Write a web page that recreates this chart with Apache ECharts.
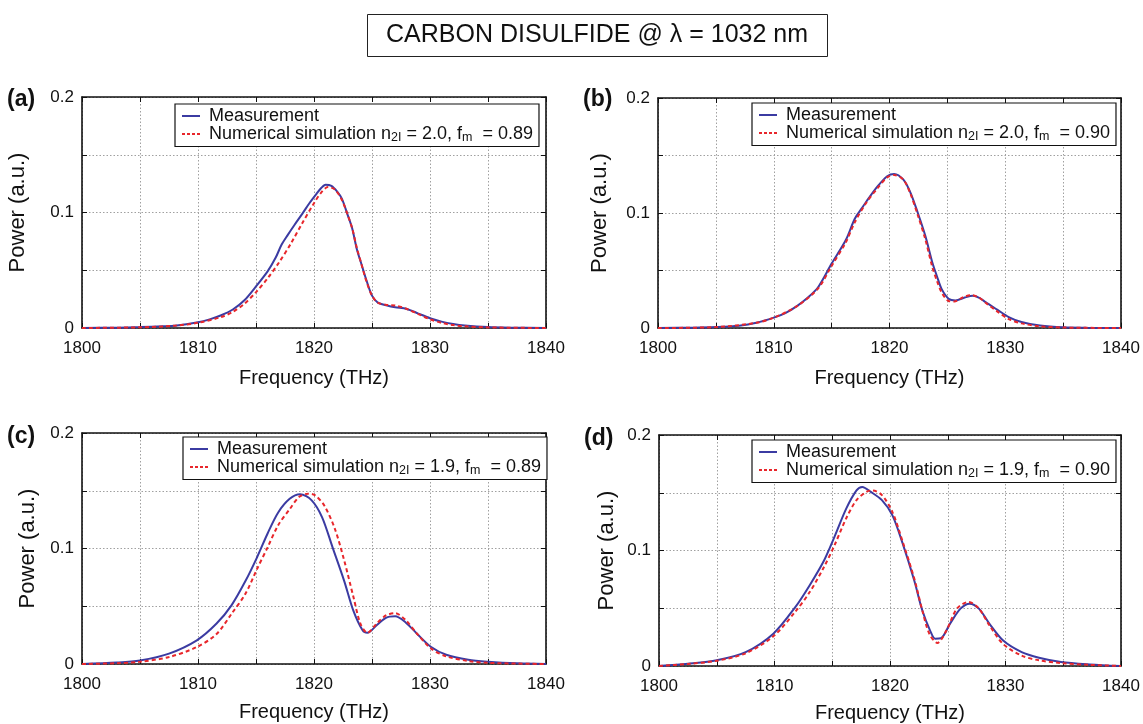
<!DOCTYPE html>
<html>
<head>
<meta charset="utf-8">
<script src="https://cdn.jsdelivr.net/npm/echarts@6/dist/echarts.min.js"></script>
<style>html,body{margin:0;padding:0;background:#fff}#c{width:1143px;height:724px}</style>
</head>
<body>
<div id="c"></div>
<script>
// ---------- data ----------
const panelLetters = ['(a)', '(b)', '(c)', '(d)'];
const n2IValues = ['2.0', '2.0', '1.9', '1.9'];
const fmValues = ['0.89', '0.90', '0.89', '0.90'];
const xTicks = [1800, 1810, 1820, 1830, 1840];
const yTicks = [0, 0.1, 0.2];

const measA_x = [1800,1803,1805,1807,1808,1810,1811,1812,1813,1814,1815,1816,1816.7,1817.2,1817.7,1818.3,1819,1819.6,1820.2,1820.6,1821,1821.5,1822,1822.4,1822.9,1823.3,1823.7,1824.1,1824.5,1825,1825.5,1826.3,1827,1828,1829,1830,1831,1832,1833,1835,1837,1840];
const measA_y = [0,0.0003,0.0008,0.0015,0.002,0.005,0.0075,0.011,0.016,0.024,0.036,0.049,0.061,0.072,0.08,0.089,0.099,0.108,0.116,0.121,0.124,0.123,0.118,0.112,0.098,0.086,0.068,0.055,0.042,0.028,0.022,0.0195,0.018,0.0165,0.0125,0.0085,0.0055,0.0035,0.0022,0.0008,0.0003,0];
const simA_x = [1800,1805,1808,1810,1812,1813,1814,1815,1816,1817,1818,1819,1820,1820.6,1821.2,1821.8,1822.4,1822.9,1823.3,1823.7,1824.1,1824.5,1825,1825.5,1826.3,1827,1828,1829,1830,1831,1832,1833,1835,1840];
const simA_y = [0,0.0006,0.002,0.0045,0.0095,0.014,0.021,0.031,0.043,0.057,0.073,0.091,0.108,0.117,0.122,0.12,0.111,0.098,0.086,0.069,0.055,0.041,0.028,0.022,0.02,0.0195,0.0165,0.012,0.0075,0.0045,0.0025,0.0015,0.0005,0];

const measB_x = [1800,1803,1805,1807,1808.5,1810,1811,1812,1813,1813.8,1815,1816.25,1817,1817.6,1818,1819,1819.8,1820.4,1821.2,1821.8,1822.45,1823.1,1823.7,1824.1,1824.5,1825.1,1825.7,1826.5,1827.2,1827.8,1828.3,1829.3,1830.3,1831.4,1833,1835,1837,1840];
const measB_y = [0,0.0003,0.0008,0.002,0.0045,0.009,0.013,0.019,0.027,0.035,0.056,0.077,0.095,0.104,0.11,0.1235,0.132,0.134,0.129,0.118,0.1,0.08,0.057,0.045,0.034,0.0255,0.024,0.0265,0.028,0.026,0.0225,0.016,0.0095,0.0052,0.0022,0.0006,0.0002,0];
const simB_x = [1800,1805,1808.5,1810,1812,1813.8,1815,1816.25,1817,1818,1819,1819.8,1820.4,1821.2,1821.8,1822.45,1823.1,1823.7,1824.1,1824.5,1825.1,1825.6,1826.4,1827.1,1827.8,1828.3,1829.3,1830.3,1831.4,1833,1835,1840];
const simB_y = [0,0.0008,0.0045,0.009,0.019,0.034,0.054,0.075,0.092,0.109,0.122,0.131,0.133,0.129,0.117,0.098,0.077,0.053,0.041,0.031,0.0235,0.023,0.027,0.0285,0.026,0.022,0.0145,0.0078,0.004,0.0015,0.0004,0];

const measC_x = [1800,1803,1805,1807.5,1809.9,1811.6,1812.9,1814.1,1815.1,1816,1816.9,1817.9,1818.8,1819.8,1820.7,1821.6,1822.6,1823.4,1824.2,1824.6,1825.4,1826.2,1827,1827.9,1828.9,1830.1,1831.4,1833.3,1835,1837.5,1840];
const measC_y = [0,0.0012,0.003,0.009,0.0205,0.035,0.051,0.072,0.0926,0.113,0.131,0.143,0.147,0.1417,0.127,0.101,0.072,0.046,0.029,0.027,0.0335,0.04,0.0413,0.036,0.026,0.0147,0.008,0.0037,0.002,0.0006,0];
const simC_x = [1800,1803,1805,1807.5,1809.9,1811.6,1812.9,1814.1,1815.1,1816,1816.9,1817.9,1818.7,1819.5,1820.1,1820.9,1821.8,1822.6,1823.4,1824,1824.6,1825.4,1826.2,1827,1827.9,1828.9,1830.1,1831.4,1833.3,1835,1840];
const simC_y = [0,0.0007,0.002,0.006,0.0147,0.026,0.0436,0.061,0.0825,0.101,0.12,0.134,0.1445,0.1475,0.146,0.137,0.117,0.0898,0.058,0.035,0.027,0.035,0.042,0.044,0.038,0.026,0.0133,0.0066,0.0026,0.001,0];

const measD_x = [1800,1802.5,1805,1807.5,1809.9,1811.8,1813.05,1814.3,1815.2,1816.2,1817.1,1817.6,1818.3,1819.3,1820.2,1821.1,1822.1,1822.8,1823.5,1823.9,1824.4,1825.2,1826.1,1826.9,1827.7,1828.6,1829.8,1831.4,1832.9,1834.8,1837.3,1840];
const measD_y = [0,0.002,0.005,0.012,0.028,0.051,0.07,0.0916,0.112,0.136,0.152,0.155,0.151,0.1436,0.1306,0.106,0.074,0.048,0.03,0.0237,0.024,0.0367,0.0497,0.054,0.0497,0.0367,0.022,0.012,0.0072,0.0035,0.0014,0];
const simD_x = [1800,1802.5,1805,1807.5,1809.9,1811.8,1813.05,1814.3,1815.2,1816.2,1817.1,1818,1818.5,1819.3,1820.2,1821.1,1822.1,1822.8,1823.4,1824.1,1824.9,1825.8,1826.8,1827.7,1828.6,1829.8,1831.4,1832.9,1834.8,1837.3,1840];
const simD_y = [0,0.0018,0.0045,0.011,0.0257,0.047,0.064,0.086,0.1046,0.1277,0.1436,0.151,0.152,0.148,0.1335,0.1075,0.0757,0.048,0.028,0.02,0.031,0.0497,0.0555,0.0497,0.0353,0.019,0.009,0.0049,0.0026,0.001,0];

const measX = [measA_x, measB_x, measC_x, measD_x];
const measY = [measA_y, measB_y, measC_y, measD_y];
const simX = [simA_x, simB_x, simC_x, simD_x];
const simY = [simA_y, simB_y, simC_y, simD_y];

// ---------- layout ----------
const FONT = '"Liberation Sans", Arial, Helvetica, sans-serif';
const BLUE = '#3b3ba2';
const RED = '#e8262b';
const grids = [
  {left: 82, top: 97, width: 464, height: 231},
  {left: 658, top: 98, width: 463, height: 230},
  {left: 82, top: 433, width: 464, height: 231},
  {left: 659, top: 435, width: 462, height: 231}
];
const xNameGaps = [40, 40, 38, 37];
const yNameGaps = [53, 47, 43, 41];
const legendPos = [
  {left: 175, top: 104},
  {left: 752, top: 103},
  {left: 183, top: 437},
  {left: 752, top: 440}
];
const letterPos = [
  {left: 7, top: 88}, {left: 583, top: 88}, {left: 7, top: 425}, {left: 584, top: 427}
];
const SOLID_ICON = 'path://M0,0h18v2h-18z';
const DASH_ICON = 'path://M0,0h3v2h-3z M5,0h3v2h-3z M10,0h3v2h-3z M15,0h3v2h-3z';

const zip = (xs, ys) => xs.map((x, i) => [x, ys[i]]);
const measName = i => 'Measurement #' + i;
const simName = i => 'Numerical simulation n2I = ' + n2IValues[i] + ', fm = ' + fmValues[i] + ' #' + i;
const isTick = (v, arr) => arr.some(t => Math.abs(t - v) < 1e-9);

const xAxes = [], yAxes = [], series = [], legends = [], titles = [];
titles.push({
  text: 'CARBON DISULFIDE @ λ = 1032 nm',
  left: 367, top: 14,
  padding: [9, 20, 9, 19],
  borderColor: '#222', borderWidth: 1,
  textStyle: {fontFamily: FONT, fontSize: 25, fontWeight: 'normal', color: '#111'}
});

for (let i = 0; i < 4; i++) {
  titles.push({
    text: panelLetters[i], left: letterPos[i].left, top: letterPos[i].top, padding: 0,
    textStyle: {fontFamily: FONT, fontSize: 23, fontWeight: 'bold', color: '#111'}
  });
  const common = {
    type: 'value', gridIndex: i,
    axisLine: {show: true, onZero: false, lineStyle: {color: '#111', width: 1.6}},
    axisTick: {show: true, inside: true, length: 5, lineStyle: {color: '#111', width: 1}}
  };
  xAxes.push(Object.assign({}, common, {
    position: 'bottom', min: 1800, max: 1840, interval: 5,
    name: 'Frequency (THz)', nameLocation: 'middle', nameGap: xNameGaps[i],
    nameTextStyle: {fontFamily: FONT, fontSize: 20, color: '#111'},
    axisLabel: {fontFamily: FONT, fontSize: 17, color: '#111', margin: 12,
      formatter: v => isTick(v, xTicks) ? String(Math.round(v)) : ''},
    splitLine: {show: true, lineStyle: {type: [1.5, 2], color: '#a0a0a0', width: 1}}
  }));
  xAxes.push(Object.assign({}, common, {
    position: 'top', min: 1800, max: 1840, interval: 5,
    axisLabel: {show: false}, splitLine: {show: false}
  }));
  yAxes.push(Object.assign({}, common, {
    position: 'left', min: 0, max: 0.2, interval: 0.05,
    name: 'Power (a.u.)', nameLocation: 'middle', nameGap: yNameGaps[i], nameRotate: 90,
    nameTextStyle: {fontFamily: FONT, fontSize: 22, color: '#111'},
    axisLabel: {fontFamily: FONT, fontSize: 17, color: '#111', margin: 8,
      formatter: v => isTick(v, yTicks) ? (Math.abs(v) < 1e-9 ? '0' : (Math.round(v * 10) / 10).toFixed(1)) : ''},
    splitLine: {show: true, lineStyle: {type: [1.5, 2], color: '#a0a0a0', width: 1}}
  }));
  yAxes.push(Object.assign({}, common, {
    position: 'right', min: 0, max: 0.2, interval: 0.05,
    axisLabel: {show: false}, splitLine: {show: false}
  }));
  series.push({
    name: measName(i), type: 'line', xAxisIndex: 2 * i, yAxisIndex: 2 * i,
    data: zip(measX[i], measY[i]), showSymbol: false, symbol: 'none', smooth: 0.3,
    lineStyle: {color: BLUE, width: 2}, itemStyle: {color: BLUE}, z: 3, animation: false
  });
  series.push({
    name: simName(i), type: 'line', xAxisIndex: 2 * i, yAxisIndex: 2 * i,
    data: zip(simX[i], simY[i]), showSymbol: false, symbol: 'none', smooth: 0.3,
    lineStyle: {color: RED, width: 2, type: [4, 3]}, itemStyle: {color: RED}, z: 4, animation: false
  });
  legends.push({
    show: true,
    data: [{name: measName(i), icon: SOLID_ICON}, {name: simName(i), icon: DASH_ICON}],
    orient: 'vertical', left: legendPos[i].left, top: legendPos[i].top,
    itemWidth: 18, itemHeight: 2, itemGap: 0,
    padding: [3, 6, 2, 7],
    borderColor: '#111', borderWidth: 1.2, backgroundColor: '#fff',
    selectedMode: false,
    itemStyle: {borderWidth: 0},
    formatter: name => name.indexOf('Measurement') === 0
      ? '{f|Measurement}'
      : '{f|Numerical simulation n}{s|2I}{n| = ' + n2IValues[i] + ', f}{s|m}{n|  = ' + fmValues[i] + '}',
    textStyle: {fontFamily: FONT, fontSize: 18, color: '#111',
      rich: {
        f: {fontFamily: FONT, fontSize: 18, color: '#111', verticalAlign: 'middle', lineHeight: 19, padding: [0, 0, 0, 4]},
        n: {fontFamily: FONT, fontSize: 18, color: '#111', verticalAlign: 'middle', lineHeight: 19},
        s: {fontFamily: FONT, fontSize: 12.5, color: '#111', verticalAlign: 'middle', padding: [8, 0, 0, 0]}
      }}
  });
}

const chart = echarts.init(document.getElementById('c'), null, {renderer: 'canvas'});
chart.setOption({
  animation: false,
  backgroundColor: '#fff',
  title: titles,
  grid: grids,
  xAxis: xAxes,
  yAxis: yAxes,
  legend: legends,
  series: series
});
</script>
</body>
</html>
